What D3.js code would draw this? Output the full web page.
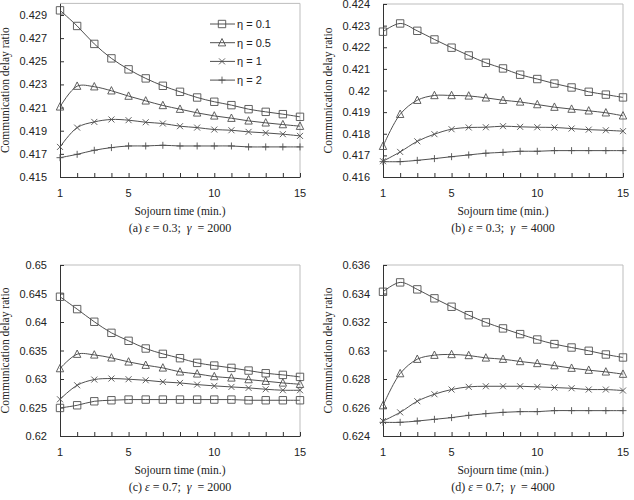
<!DOCTYPE html>
<html>
<head>
<meta charset="utf-8">
<script src="https://cdn.jsdelivr.net/npm/d3@7"></script>
<style>
  body { margin: 0; background: #fff; }
  svg { display: block; }
</style>
</head>
<body>
<svg id="chart" width="634" height="500"></svg>
<script>
// sojourn time, minutes
const sojourn = [1, 2, 3, 4, 5, 6, 7, 8, 9, 10, 11, 12, 13, 14, 15];
const xTickLabels = [1, 5, 10, 15];
const etaLabels = ["η = 0.1", "η = 0.5", "η = 1", "η = 2"];

// (a) eps = 0.3, gamma = 2000
const a01 = [0.4294, 0.42805, 0.4265, 0.42525, 0.4243, 0.42352, 0.42288, 0.42236, 0.42187, 0.4215, 0.42121, 0.42086, 0.42063, 0.42043, 0.4202];
const a05 = [0.42106, 0.42285, 0.4228, 0.42245, 0.42199, 0.42158, 0.42118, 0.42086, 0.42054, 0.42028, 0.42008, 0.41985, 0.41968, 0.41953, 0.41939];
const a1 = [0.4176, 0.41927, 0.41976, 0.41997, 0.41991, 0.41973, 0.41962, 0.41939, 0.41927, 0.4191, 0.41904, 0.4189, 0.41881, 0.4187, 0.41855];
const a2 = [0.41667, 0.41696, 0.41731, 0.41754, 0.41768, 0.41768, 0.41774, 0.41768, 0.41768, 0.41768, 0.41768, 0.4176, 0.4176, 0.4176, 0.4176];
const aTicks = [0.415, 0.417, 0.419, 0.421, 0.423, 0.425, 0.427, 0.429];

// (b) eps = 0.3, gamma = 4000
const b01 = [0.42272, 0.4231, 0.42276, 0.42236, 0.42198, 0.42162, 0.42128, 0.42102, 0.42073, 0.42053, 0.42032, 0.42014, 0.41994, 0.41981, 0.41968];
const b05 = [0.41742, 0.4189, 0.41955, 0.41977, 0.41977, 0.41975, 0.41966, 0.41955, 0.41947, 0.41935, 0.41923, 0.41914, 0.41906, 0.41897, 0.41883];
const b1 = [0.41673, 0.41716, 0.41765, 0.41798, 0.41821, 0.41829, 0.4183, 0.41835, 0.41832, 0.4183, 0.41829, 0.41824, 0.41819, 0.41816, 0.41812];
const b2 = [0.41671, 0.41671, 0.41677, 0.41685, 0.41694, 0.41702, 0.4171, 0.41714, 0.41719, 0.41719, 0.41722, 0.41722, 0.41722, 0.41722, 0.41722];
const bTicks = [0.416, 0.417, 0.418, 0.419, 0.42, 0.421, 0.422, 0.423, 0.424];

// (c) eps = 0.7, gamma = 2000
const c01 = [0.64443, 0.64226, 0.64004, 0.6381, 0.6367, 0.63535, 0.63441, 0.63365, 0.63283, 0.63236, 0.63195, 0.63148, 0.63101, 0.63072, 0.63037];
const c05 = [0.63183, 0.63435, 0.63423, 0.63371, 0.633, 0.63242, 0.63195, 0.63125, 0.6309, 0.63043, 0.63019, 0.6299, 0.62961, 0.62931, 0.62908];
const c1 = [0.62644, 0.6289, 0.6299, 0.63008, 0.62996, 0.62978, 0.62949, 0.62931, 0.62902, 0.62879, 0.62861, 0.62844, 0.6282, 0.62803, 0.62803];
const c2 = [0.62492, 0.62539, 0.62609, 0.62627, 0.62639, 0.62639, 0.62639, 0.62639, 0.62639, 0.62639, 0.62639, 0.62627, 0.62627, 0.62627, 0.62627];
const cTicks = [0.62, 0.625, 0.63, 0.635, 0.64, 0.645, 0.65];

// (d) eps = 0.7, gamma = 4000
const d01 = [0.63412, 0.63478, 0.63429, 0.63366, 0.63307, 0.63248, 0.63197, 0.63155, 0.63115, 0.63077, 0.63045, 0.63021, 0.62998, 0.62972, 0.62951];
const d05 = [0.62613, 0.62838, 0.62939, 0.62967, 0.62972, 0.62965, 0.62948, 0.62939, 0.62923, 0.62909, 0.62894, 0.62876, 0.62862, 0.6285, 0.62834];
const d1 = [0.62505, 0.62566, 0.62644, 0.62693, 0.62726, 0.62745, 0.62749, 0.62749, 0.62749, 0.62745, 0.6274, 0.62735, 0.62726, 0.62726, 0.62719];
const d2 = [0.62496, 0.62496, 0.62505, 0.62517, 0.62529, 0.62545, 0.62557, 0.62566, 0.62571, 0.62571, 0.62578, 0.62578, 0.62578, 0.62578, 0.62578];
const dTicks = [0.624, 0.626, 0.628, 0.63, 0.632, 0.634, 0.636];

const svg = d3.select("#chart");
const sans = "'Liberation Sans', Arial, sans-serif";
const serif = "'Liberation Serif', 'Times New Roman', serif";
const lineColor = "#505050";
const nb = "\u00a0";

// marker shapes, drawn as paths around 0,0
function markerPath(type) {
  const s = 3.7;
  if (type === "square") return `M${-s},${-s}H${s}V${s}H${-s}Z`;
  if (type === "triangle") return `M0,${-s - 0.5}L${s},${s - 0.5}L${-s},${s - 0.5}Z`;
  if (type === "cross") return `M${-3},${-3}L3,3M3,${-3}L${-3},3`;
  return `M${-3.5},0H3.5M0,${-3.5}V3.5`;
}

const panels = [
  {series: [a01, a05, a1, a2], ticks: aTicks, domain: [0.415, 0.43], box: [60, 300, 3.4, 177],
   markers: ["square", "triangle", "cross", "plus"], tag: "(a)", eps: "0.3", gam: "2000", legend: true},
  {series: [b01, b05, b1, b2], ticks: bTicks, domain: [0.416, 0.424], box: [383, 623, 4, 177],
   markers: ["square", "triangle", "cross", "plus"], tag: "(b)", eps: "0.3", gam: "4000"},
  {series: [c01, c05, c1, c2], ticks: cTicks, domain: [0.62, 0.65], box: [60, 300, 265, 436],
   markers: ["square", "triangle", "cross", "square"], tag: "(c)", eps: "0.7", gam: "2000"},
  {series: [d01, d05, d1, d2], ticks: dTicks, domain: [0.624, 0.636], box: [383, 623, 265, 436],
   markers: ["square", "triangle", "cross", "plus"], tag: "(d)", eps: "0.7", gam: "4000"}
];

panels.forEach(p => {
  const [left, right, top, bottom] = p.box;
  const x = d3.scaleLinear().domain([1, 15]).range([left, right]);
  const y = d3.scaleLinear().domain(p.domain).range([bottom, top]);
  const g = svg.append("g");

  // light frame top/right
  g.append("path")
    .attr("d", `M${left},${top}H${right}V${bottom}`)
    .attr("fill", "none").attr("stroke", "#bdbdbd").attr("stroke-width", 1);

  // x axis, ticks inward at every minute
  const xAxis = g.append("g")
    .attr("transform", `translate(0,${bottom})`)
    .call(d3.axisBottom(x).tickValues(sojourn).tickSizeInner(-4).tickSizeOuter(0).tickFormat(""));
  xAxis.select(".domain").attr("stroke", "#333");
  xAxis.selectAll(".tick line").attr("stroke", "#333");
  g.selectAll(".xlab")
    .data(xTickLabels)
    .enter().append("text")
    .attr("x", d => x(d)).attr("y", bottom + 20)
    .attr("text-anchor", "middle")
    .style("font-family", sans).style("font-size", "11px").attr("fill", "#222")
    .text(d => d);

  // y axis, ticks inward
  const yAxis = g.append("g")
    .attr("transform", `translate(${left},0)`)
    .call(d3.axisLeft(y).tickValues(p.ticks).tickSizeInner(-4).tickSizeOuter(0)
      .tickPadding(13).tickFormat(d => String(+d.toFixed(3))));
  yAxis.select(".domain").attr("stroke", "#333");
  yAxis.selectAll(".tick line").attr("stroke", "#333");
  yAxis.selectAll(".tick text")
    .style("font-family", sans).style("font-size", "11px").attr("fill", "#222");

  // titles
  g.append("text")
    .attr("transform", `translate(${left - 51},${(top + bottom) / 2}) rotate(-90)`)
    .attr("text-anchor", "middle")
    .style("font-family", serif).style("font-size", "11.5px").attr("fill", "#222")
    .text("Communication delay ratio");
  g.append("text")
    .attr("x", (left + right) / 2).attr("y", bottom + 38)
    .attr("text-anchor", "middle")
    .style("font-family", serif).style("font-size", "11.5px").attr("fill", "#222")
    .text("Sojourn time (min.)");
  const cap = g.append("text")
    .attr("x", (left + right) / 2).attr("y", bottom + 55)
    .attr("text-anchor", "middle")
    .style("font-family", serif).style("font-size", "12px").attr("fill", "#222");
  cap.append("tspan").text(p.tag + nb);
  cap.append("tspan").style("font-style", "italic").text("ε");
  cap.append("tspan").text(nb + "=" + nb + p.eps + ";" + nb + nb);
  cap.append("tspan").style("font-style", "italic").text("γ");
  cap.append("tspan").text(nb + nb + "=" + nb + p.gam);

  const line = d3.line()
    .x((d, i) => x(sojourn[i]))
    .y(d => y(d))
    .curve(d3.curveCatmullRom.alpha(0.5));

  p.series.forEach((vals, k) => {
    g.append("path")
      .datum(vals)
      .attr("d", line)
      .attr("fill", "none").attr("stroke", lineColor).attr("stroke-width", 1);
    g.selectAll(null)
      .data(vals)
      .enter().append("path")
      .attr("transform", (d, i) => `translate(${x(sojourn[i])},${y(d)})`)
      .attr("d", markerPath(p.markers[k]))
      .attr("fill", "none").attr("stroke", lineColor).attr("stroke-width", 0.9);
  });

  if (p.legend) {
    const lg = g.append("g");
    etaLabels.forEach((lab, k) => {
      const ly = 24 + k * 18.7;
      lg.append("line").attr("x1", 210).attr("x2", 235).attr("y1", ly).attr("y2", ly)
        .attr("stroke", lineColor).attr("stroke-width", 1);
      lg.append("path").attr("transform", `translate(222,${ly})`)
        .attr("d", markerPath(p.markers[k]))
        .attr("fill", "none").attr("stroke", lineColor).attr("stroke-width", 0.9);
      lg.append("text").attr("x", 237).attr("y", ly + 4)
        .style("font-family", sans).style("font-size", "11px").attr("fill", "#222")
        .text(lab);
    });
  }
});
</script>
</body>
</html>
